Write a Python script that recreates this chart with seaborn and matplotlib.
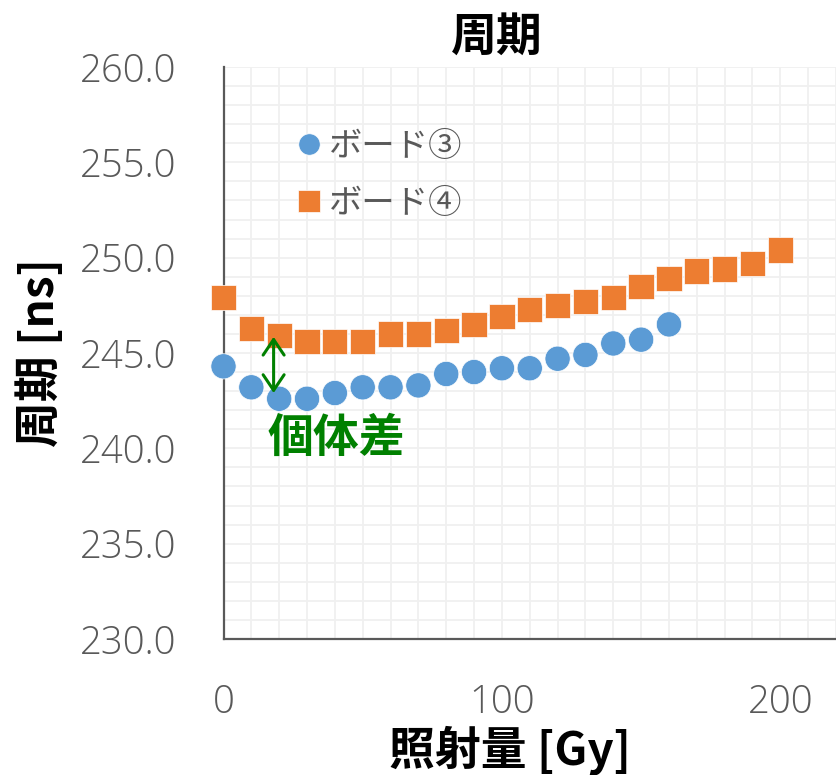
import numpy as np
import pandas as pd
import matplotlib
matplotlib.use("Agg")
import matplotlib.pyplot as plt
from matplotlib.ticker import MultipleLocator, FormatStrFormatter
import seaborn as sns

# Irradiation dose [Gy] and measured period [ns] for each board
dose_board3 = [0, 10, 20, 30, 40, 50, 60, 70, 80, 90, 100, 110, 120, 130, 140, 150, 160]
period_board3 = [244.3, 243.2, 242.6, 242.6, 242.9, 243.2, 243.2, 243.3, 243.9, 244.0,
                 244.2, 244.2, 244.7, 244.9, 245.5, 245.7, 246.5]

dose_board4 = [0, 10, 20, 30, 40, 50, 60, 70, 80, 90, 100, 110, 120, 130, 140, 150,
               160, 170, 180, 190, 200]
period_board4 = [247.9, 246.3, 245.9, 245.6, 245.6, 245.6, 246.0, 246.0, 246.2, 246.5,
                 246.9, 247.3, 247.5, 247.7, 247.9, 248.5, 248.9, 249.3, 249.4, 249.7,
                 250.4]

board_names = ["ボード③", "ボード④"]
title_text = "周期"
x_label = "照射量 [Gy]"
y_label = "周期 [ns]"
note_text = "個体差"
note_dose = 18
note_low, note_high = 242.9, 245.85

df = pd.concat([
    pd.DataFrame({"dose": dose_board3, "period": period_board3, "board": board_names[0]}),
    pd.DataFrame({"dose": dose_board4, "period": period_board4, "board": board_names[1]}),
], ignore_index=True)

sns.set_theme(style="white")
plt.rcParams["font.family"] = ["Noto Sans CJK JP", "DejaVu Sans"]

GRAY = "#595959"
BLUE = "#5B9BD5"
ORANGE = "#ED7D31"

fig = plt.figure(figsize=(8.37, 7.75), dpi=100)
ax = fig.add_axes([223.5 / 837, 1 - 639 / 775, 612.5 / 837, 572 / 775])

sns.scatterplot(data=df, x="dose", y="period", hue="board", style="board",
                palette={board_names[0]: BLUE, board_names[1]: ORANGE},
                markers={board_names[0]: "o", board_names[1]: "s"},
                s=330, edgecolor="white", linewidth=0.5, ax=ax, zorder=3,
                clip_on=False)

ax.set_xlim(0, 220)
ax.set_ylim(230, 260)

ax.xaxis.set_major_locator(MultipleLocator(100))
ax.xaxis.set_minor_locator(MultipleLocator(10))
ax.yaxis.set_major_locator(MultipleLocator(5))
ax.yaxis.set_minor_locator(MultipleLocator(1))
ax.yaxis.set_major_formatter(FormatStrFormatter("%.1f"))

ax.grid(True, which="both", color="#F0F0F0", linewidth=1.3, zorder=0)
ax.set_axisbelow(True)

for side in ("top", "right"):
    ax.spines[side].set_visible(False)
for side in ("left", "bottom"):
    ax.spines[side].set_color(GRAY)
    ax.spines[side].set_linewidth(1.6)

ax.tick_params(which="both", direction="in", color=GRAY, width=1.5,
               labelcolor=GRAY, labelsize=27.5)
ax.tick_params(axis="x", which="major", length=11, pad=32)
ax.tick_params(axis="x", which="minor", length=8)
ax.tick_params(axis="y", which="both", length=8, pad=34)
for lab in ax.get_xticklabels() + ax.get_yticklabels():
    lab.set_family(["Open Sans", "DejaVu Sans"])
    lab.set_fontweight("light")

ax.set_title(title_text, fontsize=33, fontweight="bold", color="black",
             x=0.4465, y=1.0, pad=12)
ax.set_xlabel(x_label, fontsize=33, fontweight="bold", color="black", va="center")
ax.set_ylabel(y_label, fontsize=33, fontweight="bold", color="black", va="center")
ax.xaxis.set_label_coords(0.467, -0.194)
ax.yaxis.set_label_coords(-0.30, 0.5)

leg = ax.legend(loc="upper left", bbox_to_anchor=(0.085, 0.915), frameon=False,
                fontsize=24, markerscale=0.85, handletextpad=0.0,
                labelspacing=0.66, handlelength=1.2, borderaxespad=0)
for t in leg.get_texts():
    t.set_color(GRAY)

# Double-headed arrow showing the board-to-board difference
ax.annotate("", xy=(note_dose, note_low), xytext=(note_dose, note_high),
            arrowprops=dict(arrowstyle="<->,head_length=0.4,head_width=0.27",
                            color="green", lw=2.2, mutation_scale=28,
                            shrinkA=0, shrinkB=0), zorder=4)
ax.text(40.6, 240.5, note_text, color="green", fontsize=33, fontweight="bold",
        ha="center", va="center", zorder=4)

fig.savefig("out.png", dpi=100)
